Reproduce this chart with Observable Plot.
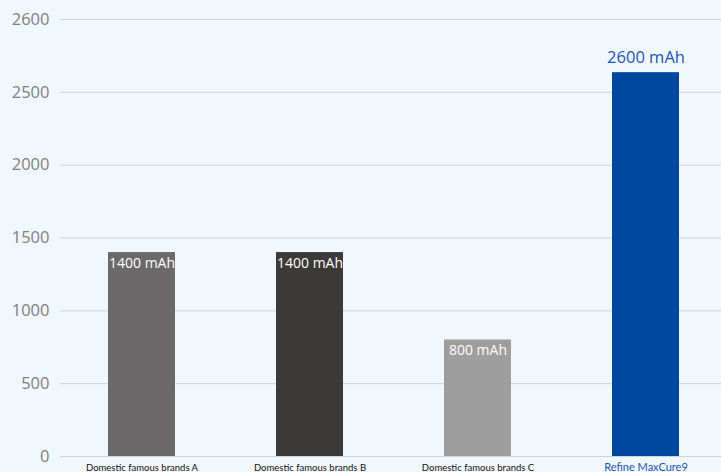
<!DOCTYPE html>
<html>
<head>
<meta charset="utf-8">
<script src="https://cdn.jsdelivr.net/npm/d3@7"></script>
<script src="https://cdn.jsdelivr.net/npm/@observablehq/plot@0.6"></script>
<style>
  html, body { margin: 0; padding: 0; background: #f0f7fd; }
  #chart svg { display: block; background: #f0f7fd; }
</style>
</head>
<body>
<div id="chart"></div>
<script>
const categories = ["Domestic famous brands A", "Domestic famous brands B", "Domestic famous brands C", "Refine MaxCure9"];
const barValues = [1400, 1400, 800, 2635];
const labelValues = [1400, 1400, 800, 2600];
const barColors = ["#6b6969", "#3d3937", "#9e9e9e", "#0047a0"];
const tickValues = [0, 500, 1000, 1500, 2000, 2500, 3000];
const tickLabels = ["0", "500", "1000", "1500", "2000", "2500", "2600"];

const data = categories.map((c, i) => ({
  cat: c, value: barValues[i], label: labelValues[i] + " mAh", color: barColors[i], i
}));
const inside = data.filter(d => d.i < 3);
const outside = data.filter(d => d.i === 3);

const chart = Plot.plot({
  width: 721,
  height: 472,
  marginLeft: 60,
  marginRight: 0,
  marginTop: 19,
  marginBottom: 16,
  style: { background: "#f0f7fd", fontFamily: "Open Sans" },
  x: { domain: categories, range: [58, 730], paddingInner: 0.6, paddingOuter: 0.3, axis: null },
  y: { domain: [0, 3000], axis: null },
  color: { type: "identity" },
  marks: [
    Plot.ruleY(tickValues, { stroke: "#cdd5da", strokeWidth: 1 }),
    Plot.text(tickValues, {
      y: d => d, frameAnchor: "left", dx: -11, textAnchor: "end",
      text: (d, i) => tickLabels[i], fill: "#808080", fontSize: 16.5
    }),
    Plot.barY(data, { x: "cat", y: "value", fill: "color" }),
    Plot.text(inside, { x: "cat", y: "value", text: "label", dy: 11, fill: "white", fontSize: 14 }),
    Plot.text(outside, { x: "cat", y: "value", text: "label", dy: -15, fill: "#1a56b0", fontSize: 16.5 }),
    Plot.text(data, {
      x: "cat", y: 0, text: "cat", dy: 11, fontFamily: "Lato",
      fontSize: d => d.i === 3 ? 11 : 9.5,
      fill: d => d.i === 3 ? "#1a56b0" : "#111111"
    })
  ]
});
document.getElementById("chart").appendChild(chart);
</script>
</body>
</html>
